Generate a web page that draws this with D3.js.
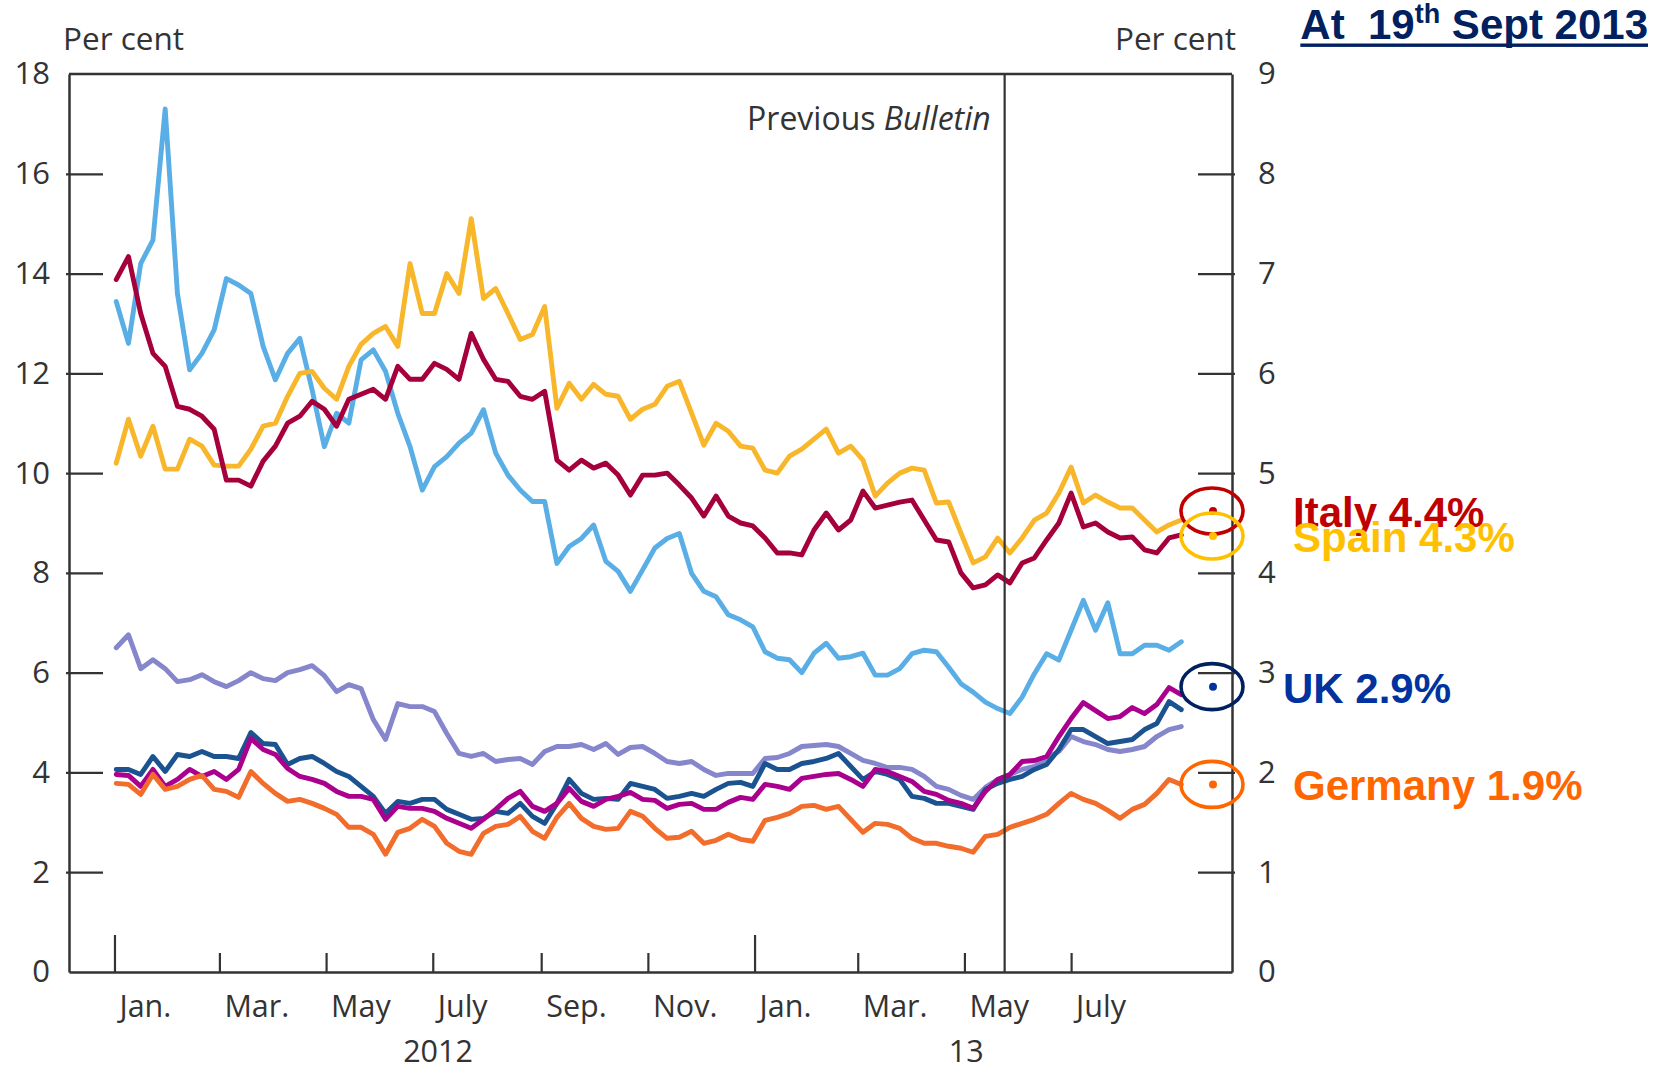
<!DOCTYPE html>
<html><head><meta charset="utf-8">
<script src="https://cdn.jsdelivr.net/npm/d3@7"></script>
<style>body{margin:0;background:#fff;} svg text{white-space:pre;}</style>
</head><body>
<svg id="chart" width="1665" height="1071"></svg>
<script>
// ---------- DATA ----------
const weeks = [
"2012-01-02","2012-01-09","2012-01-16","2012-01-23","2012-01-30",
"2012-02-06","2012-02-13","2012-02-20","2012-02-27",
"2012-03-05","2012-03-12","2012-03-19","2012-03-26",
"2012-04-02","2012-04-09","2012-04-16","2012-04-23","2012-04-30",
"2012-05-07","2012-05-14","2012-05-21","2012-05-28",
"2012-06-04","2012-06-11","2012-06-18","2012-06-25",
"2012-07-02","2012-07-09","2012-07-16","2012-07-23","2012-07-30",
"2012-08-06","2012-08-13","2012-08-20","2012-08-27",
"2012-09-03","2012-09-10","2012-09-17","2012-09-24",
"2012-10-01","2012-10-08","2012-10-15","2012-10-22","2012-10-29",
"2012-11-05","2012-11-12","2012-11-19","2012-11-26",
"2012-12-03","2012-12-10","2012-12-17","2012-12-24","2012-12-31",
"2013-01-07","2013-01-14","2013-01-21","2013-01-28",
"2013-02-04","2013-02-11","2013-02-18","2013-02-25",
"2013-03-04","2013-03-11","2013-03-18","2013-03-25",
"2013-04-01","2013-04-08","2013-04-15","2013-04-22","2013-04-29",
"2013-05-06","2013-05-13","2013-05-20","2013-05-27",
"2013-06-03","2013-06-10","2013-06-17","2013-06-24",
"2013-07-01","2013-07-08","2013-07-15","2013-07-22","2013-07-29",
"2013-08-05","2013-08-12","2013-08-19","2013-08-26",
"2013-09-02"];

// left-hand scale
const portugal = [
13.44,12.60,14.20,14.67,17.30,13.60,12.07,12.40,12.87,13.90,
13.77,13.60,12.54,11.87,12.40,12.70,11.67,10.53,11.20,11.00,
12.27,12.47,12.04,11.20,10.53,9.66,10.13,10.33,10.60,10.80,
11.27,10.40,9.96,9.66,9.43,9.43,8.19,8.53,8.69,8.96,
8.23,8.03,7.63,8.06,8.50,8.69,8.79,7.99,7.63,7.52,
7.16,7.06,6.92,6.42,6.29,6.26,6.00,6.39,6.59,6.29,
6.32,6.39,5.95,5.95,6.08,6.38,6.45,6.42,6.11,5.78,
5.61,5.41,5.28,5.18,5.51,5.98,6.38,6.25,6.85,7.45,
6.85,7.40,6.38,6.38,6.55,6.55,6.45,6.62];

// right-hand scale
const italy = [
6.94,7.17,6.60,6.20,6.07,5.67,5.64,5.57,5.44,4.93,
4.93,4.87,5.12,5.27,5.50,5.57,5.72,5.64,5.47,5.74,
5.79,5.84,5.74,6.07,5.94,5.94,6.10,6.04,5.94,6.40,
6.14,5.94,5.92,5.77,5.74,5.82,5.13,5.03,5.13,5.05,
5.10,4.98,4.78,4.98,4.98,5.00,4.88,4.75,4.57,4.77,
4.57,4.50,4.47,4.35,4.20,4.20,4.18,4.43,4.60,4.43,
4.53,4.82,4.65,4.68,4.71,4.73,4.53,4.33,4.31,4.00,
3.85,3.88,3.98,3.90,4.10,4.15,4.33,4.50,4.80,4.46,
4.50,4.41,4.35,4.36,4.23,4.20,4.35,4.38];

const spain = [
5.10,5.54,5.17,5.47,5.04,5.04,5.34,5.27,5.08,5.07,
5.07,5.24,5.47,5.50,5.77,6.00,6.02,5.85,5.74,6.07,
6.29,6.40,6.47,6.27,7.10,6.60,6.60,7.00,6.80,7.55,
6.75,6.85,6.60,6.34,6.39,6.67,5.65,5.90,5.74,5.89,
5.79,5.77,5.54,5.64,5.69,5.87,5.92,5.60,5.28,5.50,
5.42,5.27,5.25,5.03,5.00,5.17,5.24,5.34,5.44,5.20,
5.27,5.13,4.77,4.90,5.00,5.05,5.03,4.70,4.71,4.40,
4.10,4.16,4.35,4.20,4.35,4.53,4.60,4.80,5.06,4.70,
4.78,4.71,4.65,4.65,4.53,4.41,4.48,4.53];

const france = [
3.25,3.38,3.04,3.13,3.04,2.91,2.93,2.98,2.91,2.86,
2.92,3.00,2.94,2.92,3.00,3.03,3.07,2.97,2.81,2.88,
2.84,2.53,2.33,2.69,2.66,2.66,2.61,2.39,2.19,2.16,
2.19,2.11,2.13,2.14,2.08,2.21,2.26,2.26,2.28,2.23,
2.29,2.18,2.25,2.26,2.19,2.11,2.09,2.11,2.03,1.97,
1.99,1.99,1.99,2.14,2.15,2.19,2.26,2.27,2.28,2.26,
2.19,2.12,2.09,2.05,2.05,2.03,1.96,1.86,1.83,1.77,
1.73,1.85,1.93,1.98,2.03,2.06,2.14,2.21,2.36,2.31,
2.28,2.23,2.21,2.23,2.26,2.36,2.43,2.46];

const uk = [
2.03,2.03,1.98,2.16,2.01,2.18,2.16,2.21,2.16,2.16,
2.14,2.40,2.29,2.28,2.08,2.14,2.16,2.09,2.01,1.96,
1.86,1.76,1.59,1.71,1.69,1.73,1.73,1.63,1.58,1.53,
1.54,1.61,1.59,1.69,1.56,1.49,1.69,1.93,1.79,1.73,
1.74,1.73,1.89,1.86,1.83,1.74,1.76,1.79,1.76,1.83,
1.89,1.90,1.86,2.09,2.03,2.03,2.09,2.11,2.14,2.19,
2.06,1.93,2.01,1.98,1.93,1.76,1.74,1.69,1.69,1.66,
1.63,1.83,1.89,1.93,1.96,2.03,2.08,2.23,2.43,2.43,
2.36,2.29,2.31,2.33,2.43,2.49,2.71,2.63];

const us = [
1.98,1.97,1.86,2.03,1.86,1.93,2.03,1.96,2.01,1.93,
2.03,2.34,2.23,2.18,2.04,1.96,1.93,1.89,1.81,1.76,
1.76,1.73,1.53,1.66,1.64,1.64,1.61,1.54,1.49,1.44,
1.53,1.63,1.74,1.81,1.66,1.61,1.69,1.84,1.71,1.66,
1.73,1.76,1.80,1.73,1.72,1.64,1.68,1.69,1.63,1.63,
1.70,1.75,1.73,1.88,1.86,1.83,1.94,1.96,1.98,1.99,
1.93,1.86,2.03,2.01,1.96,1.91,1.81,1.78,1.72,1.69,
1.64,1.81,1.93,1.98,2.11,2.12,2.16,2.36,2.54,2.70,
2.62,2.54,2.56,2.65,2.59,2.68,2.85,2.78];

const germany = [
1.89,1.88,1.78,1.98,1.83,1.86,1.93,1.97,1.83,1.81,
1.75,2.01,1.89,1.79,1.71,1.73,1.69,1.64,1.58,1.45,
1.45,1.38,1.18,1.40,1.44,1.53,1.46,1.29,1.21,1.18,
1.39,1.46,1.48,1.56,1.41,1.34,1.55,1.69,1.54,1.46,
1.43,1.44,1.61,1.56,1.44,1.34,1.35,1.41,1.29,1.32,
1.38,1.33,1.31,1.52,1.55,1.59,1.66,1.67,1.63,1.66,
1.53,1.40,1.49,1.48,1.44,1.34,1.29,1.29,1.26,1.24,
1.20,1.36,1.38,1.45,1.49,1.53,1.58,1.69,1.79,1.73,
1.69,1.62,1.54,1.63,1.68,1.79,1.93,1.88];

const leftTicks = [0,2,4,6,8,10,12,14,16,18];
const rightTicks = [0,1,2,3,4,5,6,7,8,9];
const monthTicks = ["2012-01-01","2012-03-01","2012-05-01","2012-07-01","2012-09-01","2012-11-01",
                    "2013-01-01","2013-03-01","2013-05-01","2013-07-01"];
const monthLabels = ["Jan.","Mar.","May","July","Sep.","Nov.","Jan.","Mar.","May","July"];
const yearLabels = ["2012","13"];
const yearLabelDates = ["2012-07-04","2013-05-02"];
const previousBulletinDate = "2013-05-24";

const annoLabels = ["Italy 4.4%","Spain 4.3%","UK 2.9%","Germany 1.9%"];
const annoMarkerValues = [4.62,4.37,2.86,1.88];   // right-hand scale

// ---------- LAYOUT / STYLE ----------
const M = {left:69, right:1232, top:74, bottom:972};
const parse = d3.utcParse("%Y-%m-%d");
const x = d3.scaleUtc().domain([parse("2011-12-06"), parse("2013-10-01")]).range([M.left, M.right]);
const yL = d3.scaleLinear().domain([0,18]).range([M.bottom, M.top]);
const yR = d3.scaleLinear().domain([0,9]).range([M.bottom, M.top]);
const FONT = "'Open Sans', 'Noto Sans', sans-serif";
const BOLD = "'Liberation Sans', Arial, sans-serif";
const INK = "#333";

const svg = d3.select("#chart");
const dates = weeks.map(parse);

const series = [
  {values: portugal, y: yL, color: "#5aaee6"},
  {values: spain,    y: yR, color: "#f8b62b"},
  {values: italy,    y: yR, color: "#a5003b"},
  {values: france,   y: yR, color: "#8686cc"},
  {values: uk,       y: yR, color: "#1b5391"},
  {values: us,       y: yR, color: "#ab008e"},
  {values: germany,  y: yR, color: "#f26c2b"}
];

// data lines
const gLines = svg.append("g");
series.forEach(s => {
  const line = d3.line().x((d,i) => x(dates[i])).y(d => s.y(d));
  gLines.append("path").attr("d", line(s.values))
    .attr("fill","none").attr("stroke", s.color).attr("stroke-width", 4.9)
    .attr("stroke-linejoin","round").attr("stroke-linecap","round");
});

// previous bulletin line
const pbX = x(parse(previousBulletinDate));
svg.append("line").attr("x1",pbX).attr("x2",pbX).attr("y1",M.top).attr("y2",M.bottom)
  .attr("stroke",INK).attr("stroke-width",2.2);

// left axis
const gL = svg.append("g").attr("transform",`translate(${M.left},0)`)
  .call(d3.axisLeft(yL).tickValues(leftTicks).tickSize(-34).tickSizeOuter(0).tickPadding(19));
gL.selectAll(".tick line").attr("x1",-3).attr("stroke",INK).attr("stroke-width",2.2)
  .filter(d => d===0 || d===18).remove();
// right axis
const gR = svg.append("g").attr("transform",`translate(${M.right},0)`)
  .call(d3.axisRight(yR).tickValues(rightTicks).tickSize(-34).tickSizeOuter(0).tickPadding(26));
gR.selectAll(".tick line").attr("x1",3).attr("stroke",INK).attr("stroke-width",2.2)
  .filter(d => d===0 || d===9).remove();
[gL,gR].forEach(g => {
  g.attr("font-family",FONT).attr("font-size",31);
  g.selectAll(".tick text").attr("fill",INK);
  g.select(".domain").attr("stroke",INK).attr("stroke-width",2.5);
});

// bottom axis
const monthDates = monthTicks.map(parse);
const gB = svg.append("g").attr("transform",`translate(0,${M.bottom})`)
  .call(d3.axisBottom(x).tickValues(monthDates).tickSize(-19).tickSizeOuter(0).tickFormat(""));
gB.select(".domain").attr("stroke",INK).attr("stroke-width",2.5);
gB.selectAll(".tick line").attr("stroke",INK).attr("stroke-width",2.2)
  .attr("y2", d => d.getUTCMonth()===0 ? -37 : -19);
gB.selectAll(".tick text").remove();

// top border
svg.append("line").attr("x1",M.left).attr("x2",M.right).attr("y1",M.top).attr("y2",M.top)
  .attr("stroke",INK).attr("stroke-width",2.5);

// month labels
svg.append("g").selectAll("text").data(monthDates).join("text")
  .attr("x", d => x(d) + 5).attr("y", 1017)
  .attr("font-family",FONT).attr("font-size",30.5).attr("fill",INK)
  .text((d,i) => monthLabels[i]);
svg.append("g").selectAll("text").data(yearLabelDates).join("text")
  .attr("x", d => x(parse(d))).attr("y", 1062).attr("text-anchor","middle")
  .attr("font-family",FONT).attr("font-size",30.5).attr("fill",INK)
  .text((d,i) => yearLabels[i]);

// per cent labels
svg.append("text").attr("x",63).attr("y",50).attr("font-family",FONT).attr("font-size",31.5)
  .attr("fill",INK).text("Per cent");
svg.append("text").attr("x",1236).attr("y",50).attr("text-anchor","end").attr("font-family",FONT)
  .attr("font-size",31.5).attr("fill",INK).text("Per cent");

// previous bulletin label
const pbt = svg.append("text").attr("x",pbX-14).attr("y",130).attr("text-anchor","end")
  .attr("font-family",FONT).attr("font-size",32).attr("fill",INK);
pbt.append("tspan").text("Previous ");
pbt.append("tspan").attr("font-style","italic").text("Bulletin");

// title
const title = svg.append("text").attr("x",1648).attr("y",39).attr("text-anchor","end")
  .attr("font-family",BOLD).attr("font-weight","bold").attr("font-size",42).attr("fill","#002060");
title.append("tspan").text("At  19");
title.append("tspan").attr("dy",-16).attr("font-size",27).text("th");
title.append("tspan").attr("dy",16).text(" Sept 2013");
const tb = title.node().getBBox();
svg.append("rect").attr("x",tb.x).attr("y",43.5).attr("width",tb.width).attr("height",3.4).attr("fill","#002060");

// annotations
const annoText = ["#c00000","#ffc000","#0033a0","#ff6600"];
const annoRing = ["#c00000","#ffc000","#002060","#ff6600"];
const annoDx = [81,81,71,81];
const cx = 1212;
annoLabels.forEach((lab,i) => {
  const cy = yR(annoMarkerValues[i]);
  svg.append("ellipse").attr("cx",cx).attr("cy",cy).attr("rx",31).attr("ry",23)
    .attr("fill","none").attr("stroke",annoRing[i]).attr("stroke-width",3.6);
  svg.append("circle").attr("cx",cx+1).attr("cy",cy).attr("r",4).attr("fill",annoText[i]);
  svg.append("text").attr("x",cx+annoDx[i]).attr("y",cy+16)
    .attr("font-family",BOLD).attr("font-weight","bold").attr("font-size",42)
    .attr("fill",annoText[i]).text(lab);
});
</script>
</body></html>
